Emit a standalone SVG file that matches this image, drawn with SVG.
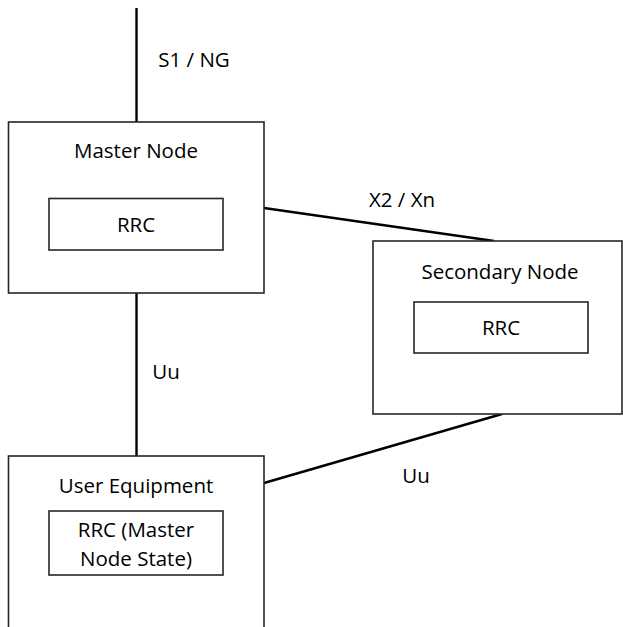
<svg xmlns="http://www.w3.org/2000/svg" width="623" height="627" viewBox="0 0 623 627">
  <style>
    .box { fill: #ffffff; stroke: #262626; stroke-width: 1.6; }
    .link { stroke: #000000; stroke-width: 2.4; fill: none; }
    .label { font-family: "Open Sans", "DejaVu Sans", sans-serif; font-size: 20.5px; fill: #000000; text-anchor: middle; }
  </style>
  <rect width="623" height="627" fill="#ffffff"/>

  <g id="connectors">
    <line class="link" x1="136.5" y1="8" x2="136.5" y2="122"/>
    <line class="link" x1="136.5" y1="293" x2="136.5" y2="456"/>
    <line class="link" x1="264" y1="208" x2="494" y2="241"/>
    <line class="link" x1="264" y1="483" x2="502" y2="414"/>
    <text class="label" x="194" y="67">S1 / NG</text>
    <text class="label" x="402" y="207">X2 / Xn</text>
    <text class="label" x="166" y="379">Uu</text>
    <text class="label" x="416" y="483">Uu</text>
  </g>

  <g id="master-node">
    <rect class="box" x="8.5" y="122" width="255.5" height="171"/>
    <text class="label" x="136" y="158">Master Node</text>
    <g id="master-rrc">
      <rect class="box" x="49" y="198.5" width="174" height="51.5"/>
      <text class="label" x="136" y="232">RRC</text>
    </g>
  </g>

  <g id="secondary-node">
    <rect class="box" x="373" y="241" width="249" height="173"/>
    <text class="label" x="500" y="279">Secondary Node</text>
    <g id="secondary-rrc">
      <rect class="box" x="414" y="302" width="174" height="51"/>
      <text class="label" x="501" y="335">RRC</text>
    </g>
  </g>

  <g id="user-equipment">
    <rect class="box" x="8.5" y="456" width="255.5" height="190"/>
    <text class="label" x="136" y="493">User Equipment</text>
    <g id="ue-rrc">
      <rect class="box" x="49" y="511" width="174" height="64"/>
      <text class="label" x="136" y="537">RRC (Master</text>
      <text class="label" x="136" y="566">Node State)</text>
    </g>
  </g>
</svg>
